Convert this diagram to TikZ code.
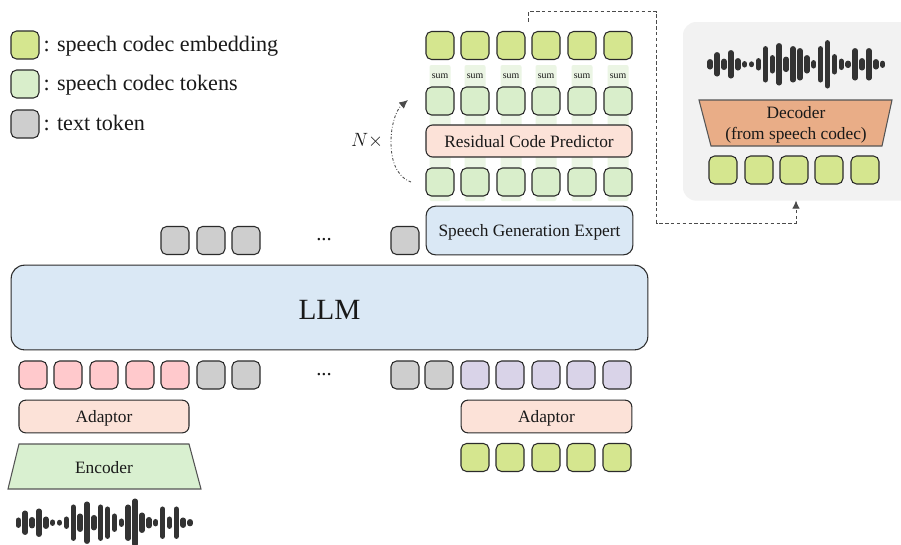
\documentclass[tikz,border=0pt]{standalone}
\usepackage{fontspec}
\setmainfont{Liberation Serif}
\usetikzlibrary{arrows.meta}
\definecolor{cEmb}{HTML}{D5E68F}
\definecolor{cTok}{HTML}{D9EECB}
\definecolor{cPale}{HTML}{EBF5E4}
\definecolor{cGray}{HTML}{CECECE}
\definecolor{cPink}{HTML}{FFC9CC}
\definecolor{cPurple}{HTML}{D9D3E8}
\definecolor{cPeach}{HTML}{FCE2D8}
\definecolor{cBlue}{HTML}{DAE8F5}
\definecolor{cDec}{HTML}{E9AD87}
\definecolor{cEnc}{HTML}{D9F0D0}
\definecolor{cPanel}{HTML}{F2F2F2}
\definecolor{cLine}{HTML}{2B2B2B}
\definecolor{cWave}{HTML}{333333}
\newcommand{\basetext}[2]{\smash{\raisebox{-#1}{#2}}}
\tikzset{
  tok/.style={draw=cLine,line width=.8pt,rounded corners=4.2pt,minimum width=21pt,minimum height=21pt,inner sep=0pt,outer sep=0pt},
  blockbox/.style={draw=cLine,line width=.8pt,rounded corners=5pt,inner sep=0pt,outer sep=0pt,align=center,text=black!90},
  trap/.style={draw=cLine!80,line width=.8pt},
  lbl/.style={inner sep=0pt,outer sep=0pt,align=center,text=black!90},
  legend/.style={lbl,anchor=west,font=\fontsize{16.6pt}{18pt}\selectfont},
  midfont/.style={font=\fontsize{13pt}{16pt}\selectfont},
  flow/.style={draw=cLine!85,line width=.7pt,dash pattern=on 2.6pt off 1.8pt},
}
\newcommand{\wavebars}[3]{%
  \foreach \hh [count=\ii from 0] in {5,12,5.5,14,6,3,2.7,6,18,9,21,7.5,18,16,9,4,18,24,10,5.5,3.5,16,6,16,5,3.4}
    \draw[cWave,line width=4.1pt,line cap=round] ({#1+\ii*#3},{#2-\hh+2.5}) -- ({#1+\ii*#3},{#2+\hh-2.5});%
}
\begin{document}
\begin{tikzpicture}[x=.75pt,y=-.75pt]
\clip (0,0) rectangle (901,544);
\useasboundingbox (0,0) rectangle (901,544);
\fill[white] (0,0) rectangle (901,544);
% panel
\node[fill=cPanel,rounded corners=10pt,minimum width=172.5pt,minimum height=134pt,inner sep=0pt,outer sep=0pt,anchor=north west] (panel) at (683,22) {};
% pale bars behind columns
\foreach \cx in {440,475,511,546,582,618}
  \fill[cPale,rounded corners=1.5pt] (\cx-10.5,65) rectangle (\cx+10.5,201);
% legend
\node[tok,fill=cEmb] (legA) at (25,45) {};
\node[tok,fill=cTok] (legB) at (25,84) {};
\node[tok,fill=cGray] (legC) at (25,124) {};
\node[legend] (legAt) at (43.5,46) {: speech codec embedding};
\node[legend] (legBt) at (43.5,85) {: speech codec tokens};
\node[legend] (legCt) at (43.5,123) {: text token};
% stacked columns
\foreach \cx [count=\n] in {440,475,511,546,582,618}{
  \node[tok,fill=cEmb] (top\n) at (\cx,45.5) {};
  \node[tok,fill=cTok] (mid\n) at (\cx,101) {};
  \node[tok,fill=cTok] (low\n) at (\cx,182) {};
  \node[lbl,font=\fontsize{7.4pt}{8pt}\selectfont] (sum\n) at (\cx,76.5) {sum};
}
\node[blockbox,fill=cPeach,minimum width=154.5pt,minimum height=24pt,midfont] (rcp) at (529,141) {\basetext{4.6pt}{Residual Code Predictor}};
\node[blockbox,fill=cBlue,minimum width=155pt,minimum height=36.5pt,rounded corners=7pt,midfont] (sge) at (529.5,230.5) {\basetext{4.6pt}{Speech Generation Expert}};
% LLM
\node[blockbox,fill=cBlue,minimum width=477.5pt,minimum height=63.5pt,rounded corners=10pt,font=\fontsize{22pt}{26pt}\selectfont] (llm) at (329.5,307.5) {\basetext{9.2pt}{LLM}};
% gray above LLM
\foreach \cx [count=\n] in {175,211,246,405}
  \node[tok,fill=cGray] (up\n) at (\cx,240.5) {};
\node[lbl,font=\fontsize{15.5pt}{16pt}\selectfont] (dotsU) at (324,240) {...};
% row below LLM
\foreach \cx [count=\n] in {33,68,104,140,175}
  \node[tok,fill=cPink] (pk\n) at (\cx,375) {};
\foreach \cx [count=\n] in {211,246,405,439}
  \node[tok,fill=cGray] (gr\n) at (\cx,375) {};
\foreach \cx [count=\n] in {475,510,546,581,617}{
  \node[tok,fill=cPurple] (pu\n) at (\cx,375) {};
  \node[tok,fill=cEmb] (em\n) at (\cx,457.5) {};
}
\node[lbl,font=\fontsize{15.5pt}{16pt}\selectfont] (dotsD) at (324,375) {...};
% adaptors
\node[blockbox,fill=cPeach,minimum width=127.5pt,minimum height=24.5pt,midfont] (adL) at (104,416.5) {\basetext{4.8pt}{Adaptor}};
\node[blockbox,fill=cPeach,minimum width=128pt,minimum height=24.5pt,midfont] (adR) at (546.5,416.5) {\basetext{4.8pt}{Adaptor}};
% encoder
\draw[trap,fill=cEnc] (19,444) -- (189,444) -- (201,489) -- (8,489) -- cycle;
\node[lbl,midfont] (enc) at (104,467.5) {Encoder};
% decoder
\draw[trap,fill=cDec] (699,100) -- (892,100) -- (882,146) -- (711,146) -- cycle;
\node[lbl,midfont] (dec) at (796,124.5) {Decoder\\(from speech codec)};
\foreach \cx [count=\n] in {723,759,794,829,865}
  \node[tok,fill=cEmb] (de\n) at (\cx,170) {};
% waveforms
\wavebars{710.2}{64.3}{6.9}
\wavebars{18.3}{522.7}{6.87}
% connectors
\coordinate (dashStart) at (528.3,21.5);
\coordinate (dashEnd) at (796,200.5);
\draw[flow,-{Latex[length=6pt,width=5.5pt]}] (dashStart) -- (528.3,11.7) -- (656.7,11.7) -- (656.7,223) -- (796,223) -- (dashEnd);
\coordinate (loopStart) at (411,182);
\coordinate (loopEnd) at (408,100);
\draw[cLine!85,line width=.65pt,dash pattern=on 2pt off 1.4pt on .6pt off 1.4pt,-{Latex[length=6.5pt,width=6pt]}] (loopStart) .. controls (395,176) and (391,158) .. (391,142) .. controls (391,125) and (396,110) .. (loopEnd);
\node[lbl,font=\fontsize{15.4pt}{18pt}\selectfont] (nx) at (367,141) {$N\times$};
\end{tikzpicture}
\end{document}
